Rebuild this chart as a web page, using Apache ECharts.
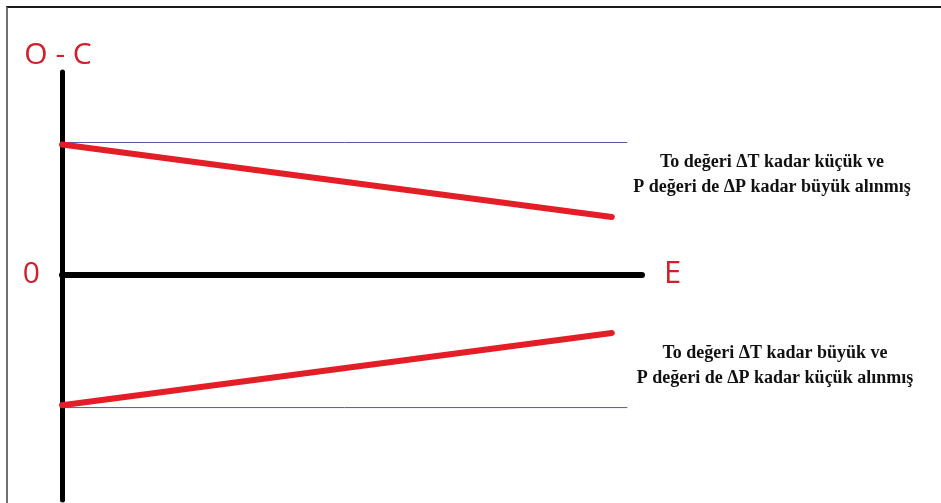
<!DOCTYPE html>
<html>
<head>
<meta charset="utf-8">
<script src="https://cdn.jsdelivr.net/npm/echarts@6/dist/echarts.min.js"></script>
<style>
  html, body { margin: 0; padding: 0; background: #fff; }
  #chart { width: 941px; height: 503px; position: relative; }
  #frame { position: absolute; left: 6px; top: 6px; width: 935px; height: 497px;
           border-top: 2px solid #1a1a1a; border-left: 2px solid #707070; box-sizing: border-box; pointer-events: none; }
</style>
</head>
<body>
<div style="position:relative;width:941px;height:503px;">
  <div id="chart"></div>
  <div id="frame"></div>
</div>
<script>
// ---- data ----
const yAxisTitle = 'O - C';
const xAxisTitle = 'E';
const zeroLabel = '0';
const redX = [0, 0.948];
const upperRed = [0.985, 0.436];
const lowerRed = [-0.99, -0.443];
const refX = [0, 0.974];
const upperRef = [1, 1];
const lowerRef = [-1.008, -1.008];
const noteUpper = ['To değeri ΔT kadar küçük ve', 'P değeri de ΔP kadar büyük alınmış'];
const noteLower = ['To değeri ΔT kadar büyük ve', 'P değeri de ΔP kadar küçük alınmış'];

const pairs = (xs, ys) => xs.map((x, i) => [x, ys[i]]);

const chart = echarts.init(document.getElementById('chart'), null, { renderer: 'canvas' });
const RED_TEXT = '#d0202c';
const lineSeries = (name, data, color, width, z) => ({
  name, type: 'line', data, symbol: 'none', silent: true, z,
  lineStyle: { color, width, cap: 'round' }
});
const noteStyle = (lines) => ({
  text: lines.join('\n'), align: 'center', verticalAlign: 'middle',
  fontFamily: '"Liberation Serif", "Times New Roman", serif', fontWeight: 'bold', fontSize: 18,
  fill: '#111', lineHeight: 25
});

chart.setOption({
  animation: false,
  backgroundColor: '#fff',
  grid: { left: 62, right: 299, top: 72, bottom: 3 },
  xAxis: {
    type: 'value', min: 0, max: 1,
    name: xAxisTitle, nameLocation: 'end', nameGap: 22,
    nameTextStyle: { color: RED_TEXT, fontSize: 31, fontFamily: 'Open Sans' },
    axisLine: { show: true, onZero: true, lineStyle: { color: '#000', width: 6, cap: 'round' } },
    axisTick: { show: false }, axisLabel: { show: false }, splitLine: { show: false }
  },
  yAxis: {
    type: 'value', min: -1.708, max: 1.534,
    name: yAxisTitle, nameLocation: 'end', nameGap: 2,
    nameTextStyle: { color: RED_TEXT, fontSize: 30, fontFamily: 'Open Sans', padding: [0, 8, 0, 0] },
    axisLine: { show: true, lineStyle: { color: '#000', width: 5, cap: 'round' } },
    axisTick: { show: false }, splitLine: { show: false },
    axisLabel: {
      show: true, margin: 22, color: RED_TEXT, fontSize: 30, fontFamily: 'Open Sans',
      showMinLabel: false, showMaxLabel: false,
      formatter: v => (Math.abs(v) < 1e-9 ? zeroLabel : '')
    }
  },
  series: [
    lineSeries('upperRef', pairs(refX, upperRef), '#5656a6', 1, 2),
    lineSeries('lowerRef', pairs(refX, lowerRef), '#5656a6', 1, 2),
    lineSeries('upperRed', pairs(redX, upperRed), '#e41e26', 6, 3),
    lineSeries('lowerRed', pairs(redX, lowerRed), '#e41e26', 6, 3)
  ],
  graphic: [
    { type: 'text', x: 772, y: 175, style: noteStyle(noteUpper) },
    { type: 'text', x: 775, y: 366, style: noteStyle(noteLower) }
  ]
});
</script>
</body>
</html>
